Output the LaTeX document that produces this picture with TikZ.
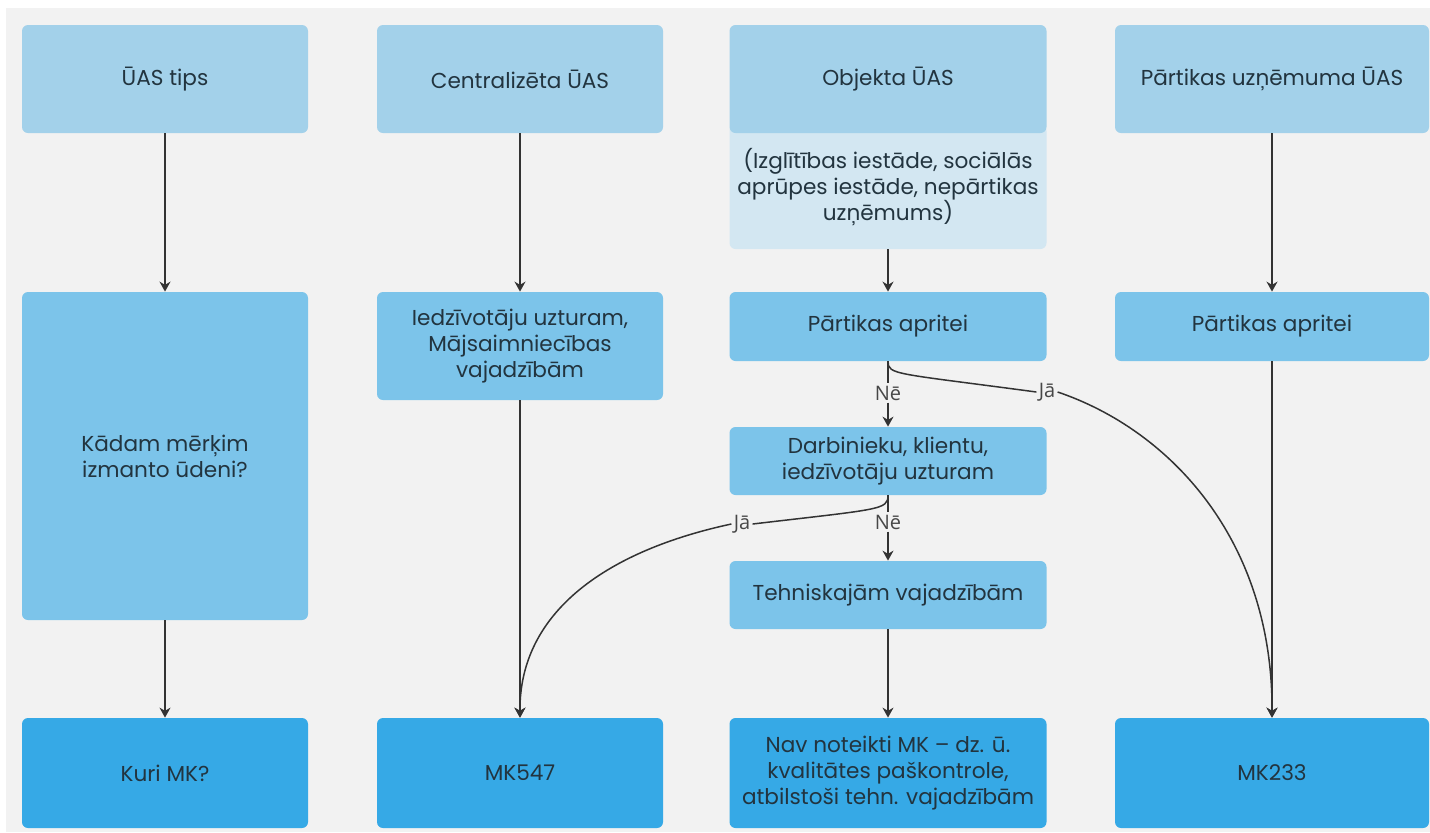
\documentclass[tikz,border=0pt]{standalone}
\usepackage{fontspec}
\setmainfont{Poppins}
\newfontfamily\labfont{Open Sans}
\usetikzlibrary{arrows.meta}

\definecolor{bg}{HTML}{F2F2F2}
\definecolor{topc}{HTML}{A3D1EA}
\definecolor{subc}{HTML}{D3E7F2}
\definecolor{midc}{HTML}{7CC4EA}
\definecolor{botc}{HTML}{36A9E6}
\definecolor{txt}{HTML}{22343F}
\definecolor{lnc}{HTML}{333333}

\begin{document}
\begin{tikzpicture}[x=0.5pt,y=-0.5pt,
  box/.style={rectangle, rounded corners=3pt, inner sep=0pt, align=center, text=txt,
    font=\fontsize{10.8}{13}\selectfont},
  narrow/.style={box, minimum width=143pt},
  wide/.style={box, minimum width=158.5pt},
  lab/.style={inner sep=1pt, text=lnc!90, font=\labfont\fontsize{10}{11}\selectfont},
  arr/.style={draw=lnc, line width=0.75pt, -{Stealth[length=5pt,width=5.5pt]}},
  ln/.style={draw=lnc, line width=0.75pt}]
  \useasboundingbox (0,0) rectangle (1430,832);
  \fill[bg] (6,8) rectangle (1430,832);

  \node[narrow, fill=topc, minimum height=54pt] at (165,79) (uas) {ŪAS tips};
  \node[narrow, fill=topc, minimum height=54pt] at (520,79) (centr) {Centralizēta ŪAS};
  \node[wide, fill=subc, minimum height=62pt] at (888,187) (objsub) {(Izglītības iestāde, sociālās\\aprūpes iestāde, nepārtikas\\uzņēmums)};
  \node[wide, fill=topc, minimum height=54pt] at (888,79) (obj) {Objekta ŪAS};
  \node[box, fill=topc, minimum width=157pt, minimum height=54pt] at (1272,79) (puas) {Pārtikas uzņēmuma ŪAS};

  \node[narrow, fill=midc, minimum height=164pt] at (165,456) (kadam) {Kādam mērķim\\izmanto ūdeni?};
  \node[narrow, fill=midc, minimum height=54pt] at (520,346) (iedz) {Iedzīvotāju uzturam,\\Mājsaimniecības\\vajadzībām};
  \node[wide, fill=midc, minimum height=34.5pt] at (888,326.5) (partA) {Pārtikas apritei};
  \node[wide, fill=midc, minimum height=34pt] at (888,461) (darb) {Darbinieku, klientu,\\iedzīvotāju uzturam};
  \node[wide, fill=midc, minimum height=34pt] at (888,595) (tehn) {Tehniskajām vajadzībām};
  \node[box, fill=midc, minimum width=157pt, minimum height=34.5pt] at (1272,326.5) (partB) {Pārtikas apritei};

  \node[narrow, fill=botc, minimum height=55pt] at (165,773) (kuri) {Kuri MK?};
  \node[narrow, fill=botc, minimum height=55pt] at (520,773) (mk547) {MK547};
  \node[wide, fill=botc, minimum height=55pt] at (888,773) (nav) {Nav noteikti MK -- dz. ū.\\kvalitātes paškontrole,\\atbilstoši tehn. vajadzībām};
  \node[box, fill=botc, minimum width=157pt, minimum height=55pt] at (1272,773) (mk233) {MK233};

  \foreach \x/\y in {uas/kadam,kadam/kuri,centr/iedz,iedz/mk547,objsub/partA,tehn/nav,puas/partB,partB/mk233} \draw[arr] (\x) -- (\y);

  \node[lab] at (888,393) (ne1) {Nē};
  \node[lab] at (888,522) (ne2) {Nē};
  \node[lab] at (1047,392) (ja1) {Jā};
  \node[lab] at (742,524) (ja2) {Jā};
  \draw[ln] (partA.south) -- (ne1.north);
  \draw[arr] (ne1.south) -- (darb.north);
  \draw[ln] (darb.south) -- (ne2.north);
  \draw[arr] (ne2.south) -- (tehn.north);
  \draw[ln] (partA.south) .. controls (888,375) and (895,373) .. (ja1.west);
  \draw[arr] (ja1.east) .. controls (1170,430) and (1273,540) .. (mk233.north);
  \draw[ln] (darb.south) .. controls (888,510) and (880,509) .. (ja2.east);
  \draw[arr] (ja2.west) .. controls (610,550) and (519,610) .. (mk547.north);
\end{tikzpicture}
\end{document}
